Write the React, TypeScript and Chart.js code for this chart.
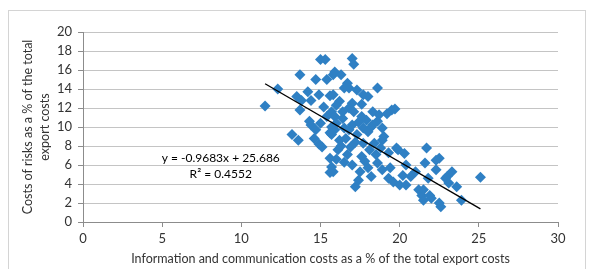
import React, { useEffect, useRef } from "react";
import { Chart, registerables } from "chart.js";
Chart.register(...registerables);

// Information and communication costs (% of total export costs)
const xValues = [
  11.5, 12.3, 13.7, 13.5, 13.8, 14.2, 14.7, 15.0, 15.3, 15.4,
  15.8, 14.9, 15.6, 13.7, 14.4, 15.2, 14.3, 15.0, 15.4, 17.0,
  17.1, 15.9, 16.3, 16.7, 16.8, 16.5, 18.6, 15.8, 17.7, 18.0,
  16.2, 17.0, 17.6, 16.8, 17.1, 18.3, 18.7, 19.5, 19.2, 15.7,
  15.9, 17.6, 17.9, 18.6, 18.3, 17.0, 17.4, 16.4, 18.2, 18.9,
  16.6, 16.2, 15.9, 15.6, 17.3, 17.7, 18.9, 19.8, 18.1, 18.5,
  16.5, 17.0, 15.8, 17.4, 17.2, 18.0, 18.2, 19.4, 19.6, 20.4,
  20.7, 20.0, 20.4, 21.6, 21.0, 21.4, 21.5, 21.2, 19.9, 20.2,
  18.9, 16.8, 17.7, 18.0, 16.1, 16.7, 17.6, 15.6, 15.7, 21.7,
  22.5, 22.3, 21.8, 23.0, 23.3, 22.9, 23.1, 23.6, 25.1, 21.5,
  21.9, 22.0, 23.9, 22.5, 22.6, 13.2, 13.6, 14.4, 14.7, 15.1,
  14.6, 15.7, 15.6, 22.3, 16.0, 16.5, 17.2, 16.9, 18.4, 18.8,
  19.3, 16.3, 17.8, 18.6, 16.0, 17.5, 19.3, 16.4, 16.0, 17.3,
  19.7, 20.3, 19.0, 15.7, 14.9,
];
// Costs of risks (% of total export costs)
const yValues = [
  12.2, 14.0, 15.5, 13.2, 12.8, 13.7, 15.0, 17.1, 17.1, 15.0,
  15.5, 13.4, 13.3, 11.8, 12.8, 12.1, 10.6, 10.4, 11.1, 17.2,
  16.6, 15.8, 15.5, 14.6, 14.1, 14.1, 14.1, 13.4, 13.4, 13.2,
  12.7, 12.5, 12.4, 12.0, 11.6, 11.6, 11.3, 11.8, 11.4, 11.6,
  11.1, 11.1, 10.7, 10.6, 10.2, 10.2, 10.5, 10.9, 10.0, 9.9,
  8.8, 8.6, 9.7, 9.4, 9.2, 8.3, 8.6, 7.8, 7.6, 7.1,
  6.3, 6.0, 5.3, 4.4, 3.7, 5.7, 4.8, 5.7, 4.2, 6.0,
  4.8, 3.9, 3.9, 6.2, 5.3, 2.8, 2.3, 3.4, 7.6, 4.9,
  5.5, 9.7, 9.9, 9.5, 7.6, 7.1, 6.9, 6.7, 5.8, 7.8,
  6.7, 5.5, 4.6, 4.8, 5.3, 4.6, 4.1, 3.7, 4.7, 3.4,
  2.8, 2.5, 2.3, 2.0, 1.6, 9.2, 8.6, 10.2, 9.7, 7.9,
  8.8, 9.2, 5.2, 6.5, 10.4, 9.9, 8.4, 7.9, 8.3, 7.8,
  7.3, 8.0, 6.4, 6.2, 6.6, 5.3, 4.6, 11.6, 12.3, 13.9,
  11.9, 7.2, 9.0, 10.0, 8.2,
];

const SLOPE = -0.9683;
const INTERCEPT = 25.686;
const R_SQUARED = 0.4552;

const X_MIN = 0, X_MAX = 30, X_STEP = 5;
const Y_MIN = 0, Y_MAX = 20, Y_STEP = 2;

const X_TITLE = "Information and communication costs as a % of the total export costs";
const Y_TITLE = ["Costs of risks as a % of the total", "export costs"];
const EQ_TEXT = `y = ${SLOPE}x + ${INTERCEPT}`;
const R2_TEXT = `R\u00B2 = ${R_SQUARED}`;
const LABEL_X = 8.7;
const EQ_Y = 6.74;
const R2_Y = 5.05;

const FONT = "Lato, 'Open Sans', sans-serif";
const TEXT = "#333333";
const BLUE = "#2F80C4";

export default function App() {
  const ref = useRef<HTMLCanvasElement | null>(null);

  useEffect(() => {
    if (!ref.current) return;
    const points = xValues.map((x, i) => ({ x, y: yValues[i] }));
    const minX = Math.min(...xValues);
    const maxX = Math.max(...xValues);
    const trend = [
      { x: minX, y: SLOPE * minX + INTERCEPT },
      { x: maxX, y: SLOPE * maxX + INTERCEPT },
    ];

    const labelPlugin = {
      id: "eqLabel",
      afterDatasetsDraw(chart: any) {
        const { ctx, scales } = chart;
        ctx.save();
        ctx.font = `12px ${FONT}`;
        ctx.fillStyle = "#000";
        ctx.textAlign = "center";
        ctx.textBaseline = "middle";
        ctx.fillText(EQ_TEXT, scales.x.getPixelForValue(LABEL_X), scales.y.getPixelForValue(EQ_Y));
        ctx.fillText(R2_TEXT, scales.x.getPixelForValue(LABEL_X), scales.y.getPixelForValue(R2_Y));
        ctx.restore();
      },
    };

    const chart = new Chart(ref.current, {
      type: "scatter",
      data: {
        datasets: [
          {
            type: "line",
            data: trend,
            borderColor: "#000",
            borderWidth: 1.3,
            pointRadius: 0,
            showLine: true,
            order: 0,
          } as any,
          {
            data: points,
            pointStyle: "rectRot",
            pointRadius: 5.5,
            backgroundColor: BLUE,
            borderColor: BLUE,
            borderWidth: 0,
            order: 1,
          },
        ],
      },
      options: {
        responsive: false,
        animation: false,
        layout: { padding: { left: 0, right: 31, top: 32, bottom: 0 } },
        plugins: { legend: { display: false }, tooltip: { enabled: false } },
        scales: {
          x: {
            type: "linear",
            min: X_MIN,
            max: X_MAX,
            ticks: { stepSize: X_STEP, color: TEXT, font: { family: FONT, size: 13 }, padding: 4 },
            grid: { drawOnChartArea: false, drawTicks: true, tickLength: 5, tickColor: "#8c8c8c" },
            border: { color: "#8c8c8c", width: 1 },
            title: {
              display: true,
              text: X_TITLE,
              color: TEXT,
              font: { family: FONT, size: 12.5, lineHeight: 1.2 },
              padding: { top: 0, bottom: 2.5 },
            },
            afterFit(scale: any) {
              scale.height = 47;
            },
          },
          y: {
            type: "linear",
            min: Y_MIN,
            max: Y_MAX,
            ticks: { stepSize: Y_STEP, color: TEXT, font: { family: FONT, size: 13 }, padding: 6 },
            grid: { color: "#c4c4c4", tickLength: 5, tickColor: "#8c8c8c" },
            border: { color: "#8c8c8c", width: 1 },
            title: {
              display: true,
              text: Y_TITLE,
              color: TEXT,
              font: { family: FONT, size: 12.5, lineHeight: 1.36 },
              padding: { top: 19.5, bottom: 0 },
            },
            afterFit(scale: any) {
              scale.width = 83;
            },
          },
        },
      },
      plugins: [labelPlugin],
    });
    return () => chart.destroy();
  }, []);

  return (
    <div style={{ position: "absolute", left: 0, top: 0, width: 589, height: 269, background: "#fff" }}>
      <div
        style={{
          position: "absolute",
          left: 8,
          top: 10,
          width: 578,
          height: 270,
          border: "1px solid #d4d4d4",
          boxSizing: "border-box",
        }}
      />
      <canvas
        ref={ref}
        width={589}
        height={269}
        style={{ position: "absolute", left: 0, top: 0, width: 589, height: 269, display: "block" }}
      />
    </div>
  );
}
